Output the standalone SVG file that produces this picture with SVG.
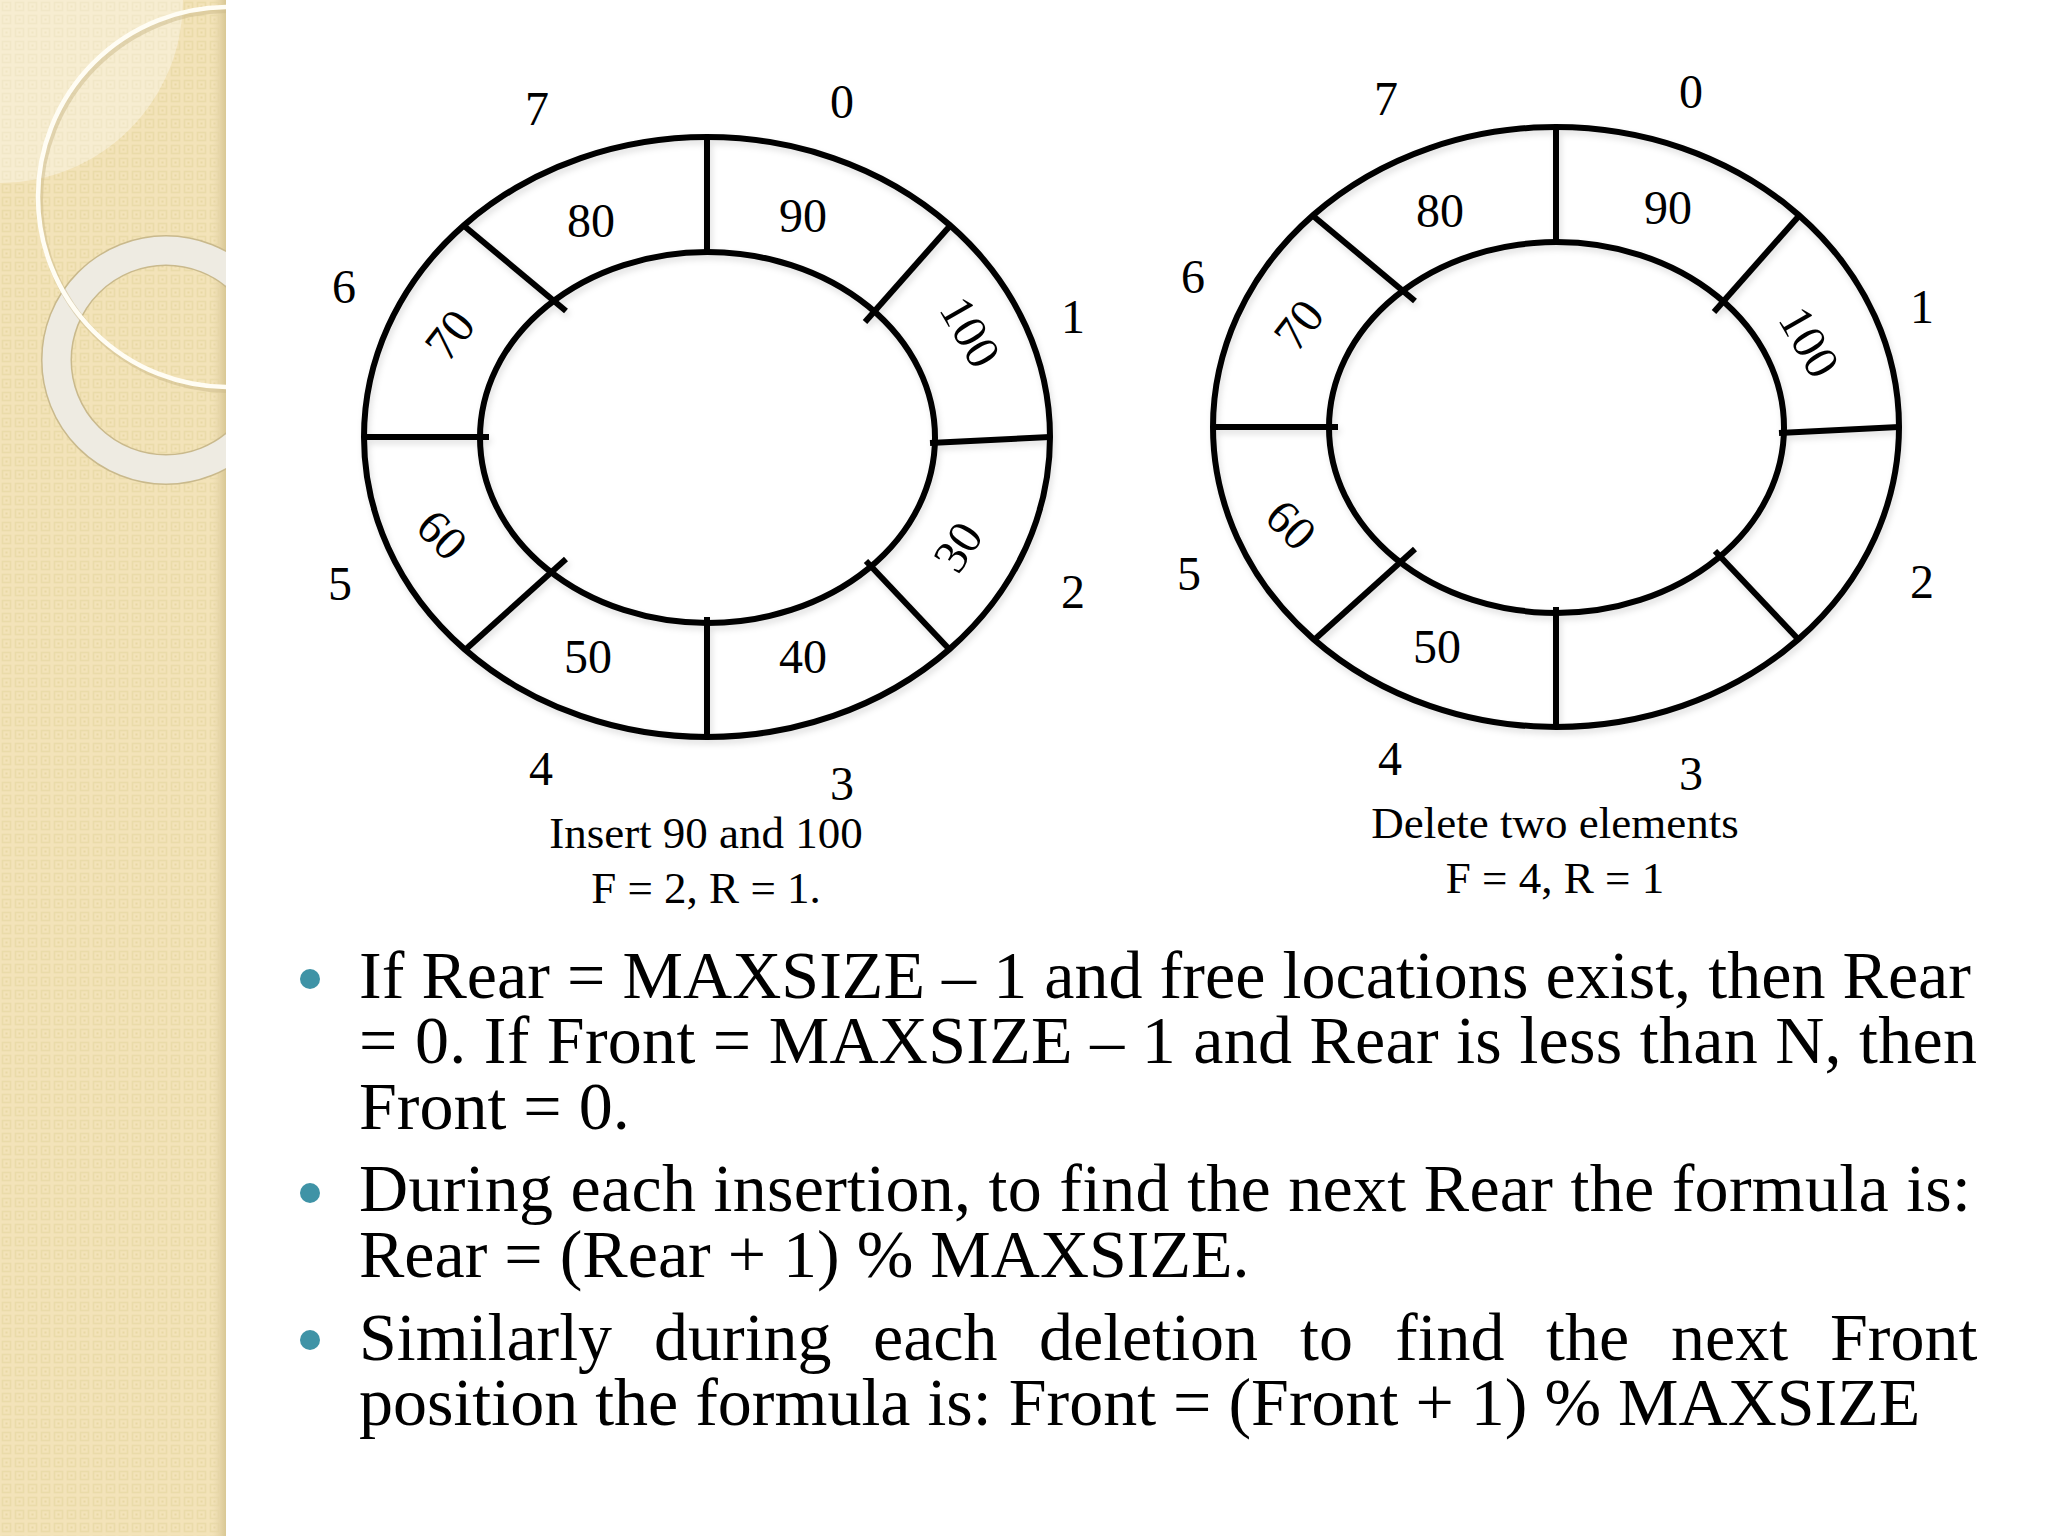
<svg xmlns="http://www.w3.org/2000/svg" width="2048" height="1536" viewBox="0 0 2048 1536">
<style>
.ring{fill:none;stroke:#000;stroke-width:6}
.div{stroke:#000;stroke-width:6;stroke-linecap:butt}
.idx{font-family:"Liberation Serif","Times New Roman",serif;font-size:48px;fill:#000;text-anchor:middle}
.val{font-family:"Liberation Serif","Times New Roman",serif;font-size:48px;fill:#000;text-anchor:middle}
.cap{font-family:"Liberation Serif","Times New Roman",serif;font-size:45px;fill:#000;text-anchor:middle}
.body{font-family:"Liberation Serif","Times New Roman",serif;font-size:68px;fill:#000}
.bul{fill:#3f93a6}
</style>
<defs>
<pattern id="weave" width="13" height="13" patternUnits="userSpaceOnUse">
<rect width="13" height="13" fill="#f3e3b9"/>
<rect x="2.5" y="2.5" width="8" height="8" fill="none" stroke="#eadba9" stroke-width="1.6"/>
<rect x="5.5" y="5.5" width="2" height="2" fill="#e8d7a3"/>
</pattern>
<linearGradient id="edge" x1="0" y1="0" x2="1" y2="0">
<stop offset="0" stop-color="#e9d9ae" stop-opacity="0"/>
<stop offset="0.7" stop-color="#e2d1a2"/>
<stop offset="1" stop-color="#d9c894"/>
</linearGradient>
<filter id="sh" x="-10%" y="-10%" width="120%" height="120%">
<feDropShadow dx="2" dy="4" stdDeviation="3" flood-color="#000" flood-opacity="0.12"/>
</filter>
<clipPath id="side"><rect x="0" y="0" width="226" height="1536"/></clipPath>
</defs>

<rect width="2048" height="1536" fill="#ffffff"/>

<g id="sidebar">
<rect x="0" y="0" width="226" height="1536" fill="url(#weave)"/>
<rect x="212" y="0" width="14" height="1536" fill="url(#edge)"/>
<g clip-path="url(#side)">
<circle cx="0" cy="0" r="183" fill="#ffffff" fill-opacity="0.35"/>
<circle cx="166" cy="360" r="109.5" fill="none" stroke="#c9b98c" stroke-width="31"/>
<circle cx="166" cy="360" r="109.5" fill="none" stroke="#eeebe2" stroke-width="28"/>
<circle cx="228" cy="197" r="190" fill="none" stroke="#cbb98a" stroke-width="6" opacity="0.5" transform="translate(2,3)"/>
<circle cx="228" cy="197" r="190" fill="none" stroke="#fffdf4" stroke-width="4.5"/>
</g>
</g>

<g id="queue-insert">
<g filter="url(#sh)">
<ellipse class="ring" cx="707" cy="437" rx="343" ry="300"/>
<ellipse class="ring" cx="707.5" cy="437.5" rx="227.5" ry="185.5"/>
<g id="dividers-insert">
<line class="div" x1="707" y1="137" x2="707" y2="252"/>
<line class="div" x1="949" y1="227" x2="865" y2="322"/>
<line class="div" x1="1050" y1="437" x2="930" y2="443"/>
<line class="div" x1="950" y1="650" x2="866" y2="561"/>
<line class="div" x1="707" y1="737" x2="707" y2="617"/>
<line class="div" x1="465" y1="650" x2="566" y2="559"/>
<line class="div" x1="364" y1="437" x2="489" y2="437"/>
<line class="div" x1="463" y1="225" x2="566" y2="311"/>
</g>
</g>
<text class="idx" x="842" y="118">0</text>
<text class="idx" x="1073" y="333">1</text>
<text class="idx" x="1073" y="608">2</text>
<text class="idx" x="842" y="800">3</text>
<text class="idx" x="541" y="785">4</text>
<text class="idx" x="340" y="600">5</text>
<text class="idx" x="344" y="303">6</text>
<text class="idx" x="537" y="125">7</text>
<text class="val" x="591" y="237">80</text>
<text class="val" x="803" y="232">90</text>
<text class="val" transform="translate(970,332) rotate(60)" x="0" y="16">100</text>
<text class="val" transform="translate(958,547) rotate(-57)" x="0" y="16">30</text>
<text class="val" x="803" y="673">40</text>
<text class="val" x="588" y="673">50</text>
<text class="val" transform="translate(442,535) rotate(45)" x="0" y="16">60</text>
<text class="val" transform="translate(450,335) rotate(-52)" x="0" y="16">70</text>
<text class="cap" x="706" y="848">Insert 90 and 100</text>
<text class="cap" x="706" y="903">F = 2, R = 1.</text>
</g>

<g id="queue-delete">
<g transform="translate(849,-10)">
<g filter="url(#sh)">
<ellipse class="ring" cx="707" cy="437" rx="343" ry="300"/>
<ellipse class="ring" cx="707.5" cy="437.5" rx="227.5" ry="185.5"/>
<g id="dividers-delete">
<line class="div" x1="707" y1="137" x2="707" y2="252"/>
<line class="div" x1="949" y1="227" x2="865" y2="322"/>
<line class="div" x1="1050" y1="437" x2="930" y2="443"/>
<line class="div" x1="950" y1="650" x2="866" y2="561"/>
<line class="div" x1="707" y1="737" x2="707" y2="617"/>
<line class="div" x1="465" y1="650" x2="566" y2="559"/>
<line class="div" x1="364" y1="437" x2="489" y2="437"/>
<line class="div" x1="463" y1="225" x2="566" y2="311"/>
</g>
</g>
<text class="idx" x="842" y="118">0</text>
<text class="idx" x="1073" y="333">1</text>
<text class="idx" x="1073" y="608">2</text>
<text class="idx" x="842" y="800">3</text>
<text class="idx" x="541" y="785">4</text>
<text class="idx" x="340" y="600">5</text>
<text class="idx" x="344" y="303">6</text>
<text class="idx" x="537" y="125">7</text>
<text class="val" x="591" y="237">80</text>
<text class="val" x="819" y="234">90</text>
<text class="val" transform="translate(960,352) rotate(60)" x="0" y="16">100</text>
<text class="val" x="588" y="673">50</text>
<text class="val" transform="translate(442,535) rotate(45)" x="0" y="16">60</text>
<text class="val" transform="translate(450,335) rotate(-52)" x="0" y="16">70</text>
</g>
<text class="cap" x="1555" y="838">Delete two elements</text>
<text class="cap" x="1555" y="893">F = 4, R = 1</text>
</g>

<g id="bullets">
<circle class="bul" cx="310" cy="979" r="10"/>
<circle class="bul" cx="310" cy="1193" r="10"/>
<circle class="bul" cx="310" cy="1340" r="10"/>
<text class="body" x="359" y="998" textLength="1612" lengthAdjust="spacing">If Rear = MAXSIZE – 1 and free locations exist, then Rear</text>
<text class="body" x="359" y="1063" textLength="1618" lengthAdjust="spacing">= 0. If Front = MAXSIZE – 1 and Rear is less than N, then</text>
<text class="body" x="359" y="1129">Front = 0.</text>
<text class="body" x="359" y="1211" textLength="1612" lengthAdjust="spacing">During each insertion, to find the next Rear the formula is:</text>
<text class="body" x="359" y="1277">Rear = (Rear + 1) % MAXSIZE.</text>
<text class="body" y="1360"><tspan x="359">Similarly</tspan><tspan x="654">during</tspan><tspan x="873">each</tspan><tspan x="1039">deletion</tspan><tspan x="1300">to</tspan><tspan x="1395">find</tspan><tspan x="1546">the</tspan><tspan x="1671">next</tspan><tspan x="1830">Front</tspan></text>
<text class="body" x="359" y="1425">position the formula is: Front = (Front + 1) % MAXSIZE</text>
</g>
</svg>
